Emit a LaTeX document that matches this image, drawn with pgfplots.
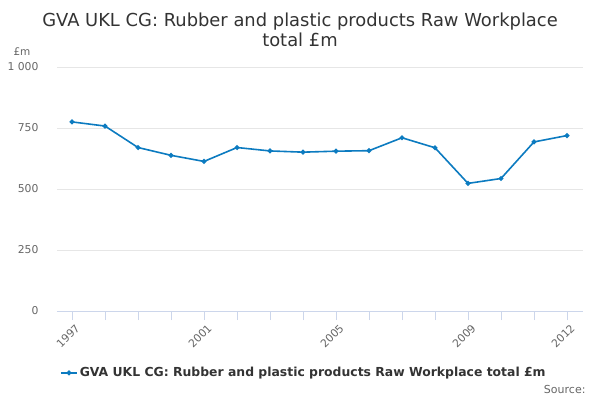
\documentclass[border=0pt]{standalone}
\usepackage{pgfplots}
\pgfplotsset{compat=1.18}
\usepackage{fontspec}
\setmainfont{DejaVu Sans}
\definecolor{series}{HTML}{0C7BC0}
\definecolor{gridc}{HTML}{E6E6E6}
\definecolor{axisc}{HTML}{CCD6EB}
\definecolor{labc}{HTML}{666666}
\definecolor{titlec}{HTML}{333333}
\begin{document}
\begin{tikzpicture}[x=1pt,y=1pt]
  \path (0,0) rectangle (600,400);
  % titre et textes autour du graphique
  \node[text=titlec, font=\fontsize{17.9}{21}\selectfont, align=center] at (300,370)
    {GVA UKL CG: Rubber and plastic products Raw Workplace\\[-0.5pt]total £m};
  \node[text=labc, font=\fontsize{10.5}{12}\selectfont, anchor=west] at (10,348) {£m};
  \node[text=labc, font=\fontsize{11}{13}\selectfont, anchor=east] at (589,11) {Source:};
  \begin{axis}[
    at={(57pt,89pt)}, anchor=south west,
    scale only axis, width=526pt, height=244pt,
    xmin=1996.545, xmax=2012.485, ymin=0, ymax=1000,
    axis x line*=bottom, axis y line*=left,
    x axis line style={axisc, line width=0.8pt},
    y axis line style={draw=none},
    xtick={1997,2001,2005,2009,2012},
    xticklabels={1997,2001,2005,2009,2012},
    minor xtick={1998,1999,2000,2002,2003,2004,2006,2007,2008,2010,2011},
    ytick={0,250,500,750,1000},
    yticklabels={0,250,500,750,1 000},
    tick align=outside,
    xtick style={axisc, line width=0.8pt},
    minor x tick style={axisc, line width=0.8pt},
    ytick style={draw=none},
    major tick length=9pt, minor tick length=9pt,
    ymajorgrids,
    grid style={gridc, line width=0.8pt},
    tick label style={text=labc, font=\fontsize{10.8}{12}\selectfont},
    xticklabel style={rotate=45, anchor=north east, xshift=3pt, yshift=-1pt},
    yticklabel style={xshift=-6pt},
    clip=false,
    legend style={at={(axis description cs:0,-0.254)}, anchor=west,
      draw=none, fill=none, text=titlec,
      font=\bfseries\fontsize{12.4}{14}\selectfont},
    legend image code/.code={
      \draw[series, line width=1.6pt] (0pt,0pt) -- (16pt,0pt);
      \fill[series] (8pt,0pt) circle (1.6pt);}
  ]
    \addplot[series, line width=1.6pt, mark=*, mark size=1.6pt,
      mark options={fill=series, draw=series}] coordinates {
      (1997,775) (1998,758) (1999,670) (2000,638) (2001,613)
      (2002,670) (2003,656) (2004,651) (2005,655) (2006,657)
      (2007,710) (2008,669) (2009,523) (2010,543) (2011,693)
      (2012,719)
    };
    \addlegendentry{GVA UKL CG: Rubber and plastic products Raw Workplace total £m}
  \end{axis}
\end{tikzpicture}
\end{document}
